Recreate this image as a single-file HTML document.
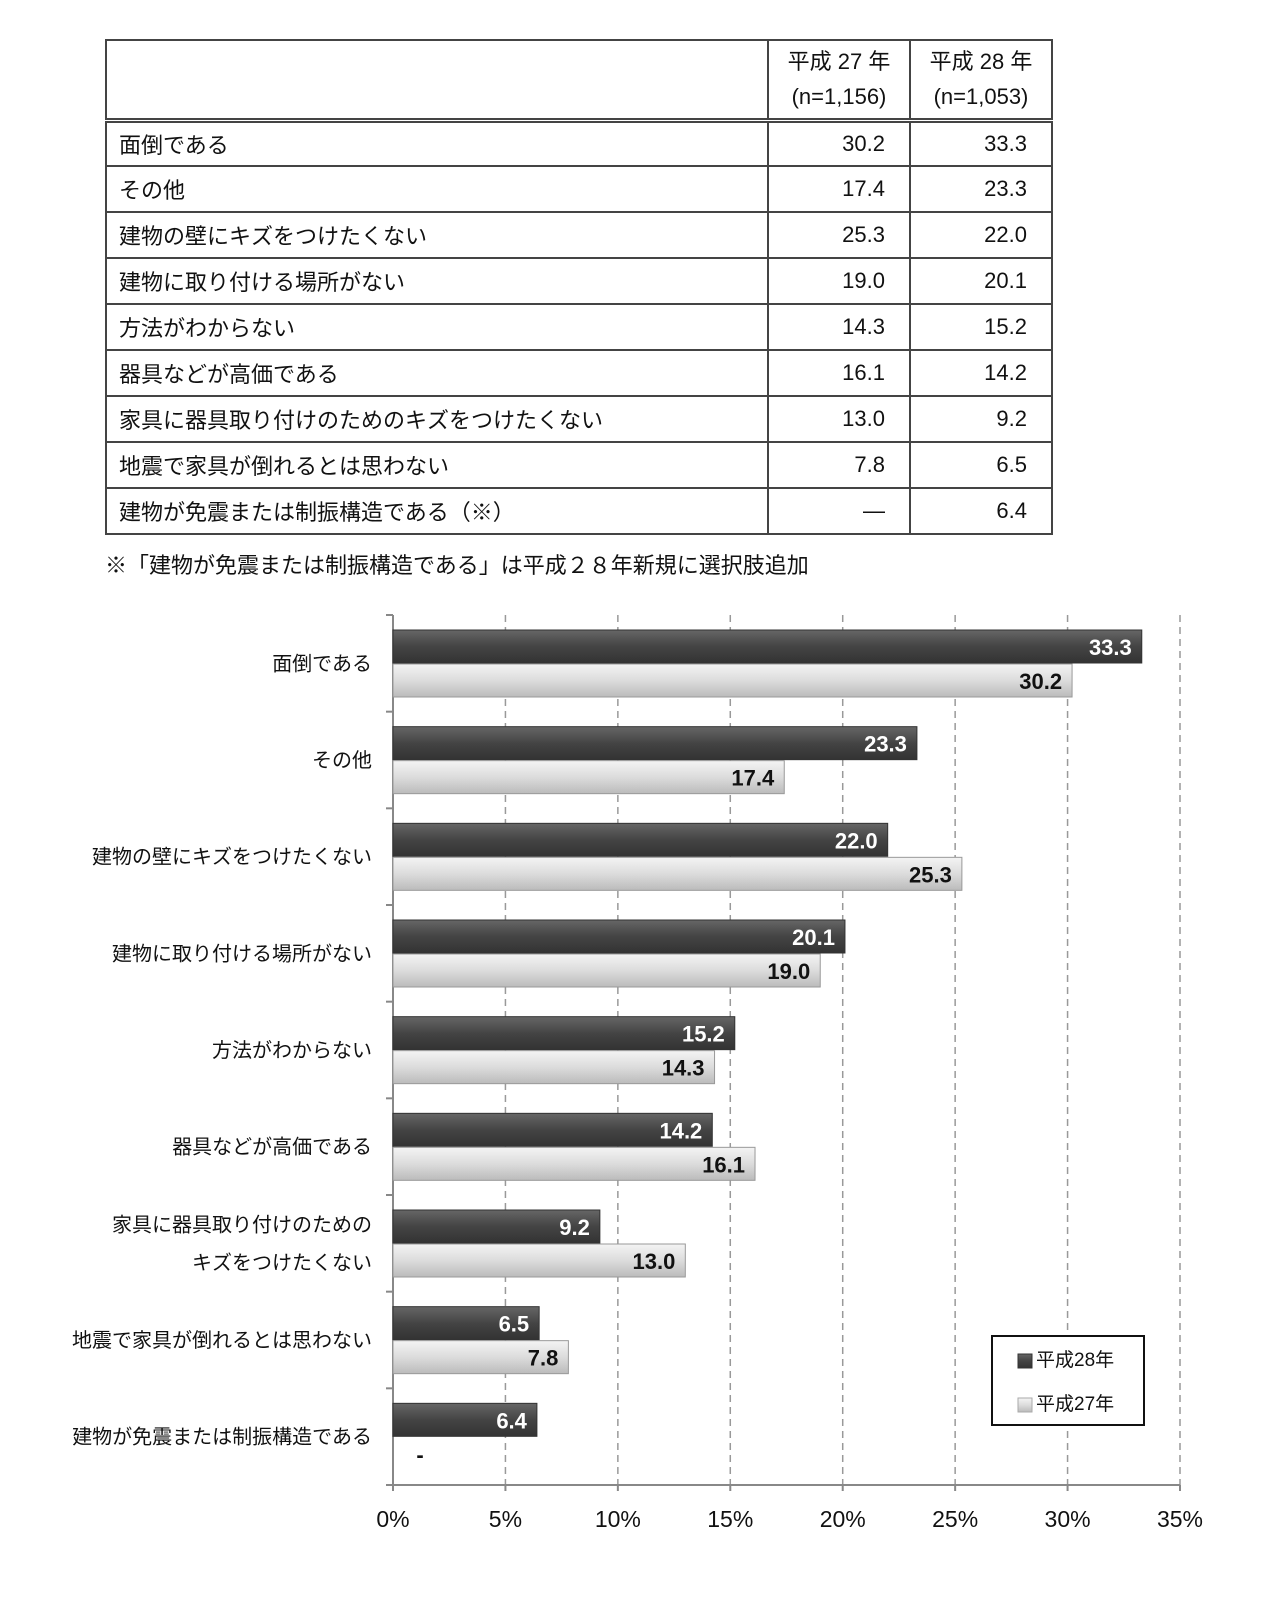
<!DOCTYPE html>
<html><head><meta charset="utf-8">
<style>
body{margin:0;background:#fff;font-family:"Liberation Sans","Noto Sans CJK JP",sans-serif;}
#wrap{position:relative;width:1280px;height:1610px;overflow:hidden;}
table{position:absolute;left:105px;top:39px;border-collapse:collapse;font-size:22px;color:#111;table-layout:fixed;width:946px;}
td{border:2px solid #444;padding:0 12px;height:46px;box-sizing:border-box;white-space:nowrap;}
td.n{text-align:right;padding-right:24px;}
tr.h td{height:80px;text-align:center;line-height:35px;padding:0}
tr.h td{border-bottom:5px double #444;}
#foot{position:absolute;left:105px;top:548px;font-size:22px;color:#111;}
</style></head><body><div id="wrap">
<table>
<colgroup><col style="width:662px"><col style="width:142px"><col style="width:142px"></colgroup>
<tr class="h"><td></td><td>平成 27 年<br>(n=1,156)</td><td>平成 28 年<br>(n=1,053)</td></tr>
<tr><td>面倒である</td><td class="n">30.2</td><td class="n">33.3</td></tr>
<tr><td>その他</td><td class="n">17.4</td><td class="n">23.3</td></tr>
<tr><td>建物の壁にキズをつけたくない</td><td class="n">25.3</td><td class="n">22.0</td></tr>
<tr><td>建物に取り付ける場所がない</td><td class="n">19.0</td><td class="n">20.1</td></tr>
<tr><td>方法がわからない</td><td class="n">14.3</td><td class="n">15.2</td></tr>
<tr><td>器具などが高価である</td><td class="n">16.1</td><td class="n">14.2</td></tr>
<tr><td>家具に器具取り付けのためのキズをつけたくない</td><td class="n">13.0</td><td class="n">9.2</td></tr>
<tr><td>地震で家具が倒れるとは思わない</td><td class="n">7.8</td><td class="n">6.5</td></tr>
<tr><td>建物が免震または制振構造である（※）</td><td class="n">―</td><td class="n">6.4</td></tr>
</table>
<div id="foot">※「建物が免震または制振構造である」は平成２８年新規に選択肢追加</div>
<svg id="chart" width="1280" height="1610" style="position:absolute;left:0;top:0">
<defs>
<linearGradient id="gd" x1="0" y1="0" x2="0" y2="1"><stop offset="0" stop-color="#666"/><stop offset="0.5" stop-color="#444"/><stop offset="1" stop-color="#333"/></linearGradient>
<linearGradient id="gl" x1="0" y1="0" x2="0" y2="1"><stop offset="0" stop-color="#f4f4f4"/><stop offset="0.5" stop-color="#dcdcdc"/><stop offset="1" stop-color="#bbb"/></linearGradient>
</defs>
</svg>
</div>
<script>
const categories=[["面倒である"],["その他"],["建物の壁にキズをつけたくない"],["建物に取り付ける場所がない"],["方法がわからない"],["器具などが高価である"],["家具に器具取り付けのための","キズをつけたくない"],["地震で家具が倒れるとは思わない"],["建物が免震または制振構造である"]];
const h28=[33.3,23.3,22.0,20.1,15.2,14.2,9.2,6.5,6.4];
const h27=[30.2,17.4,25.3,19.0,14.3,16.1,13.0,7.8,null];
const ticks=[0,5,10,15,20,25,30,35];
const svg=document.getElementById('chart');
const NS='http://www.w3.org/2000/svg';
const x0=393,x1=1180,top0=615,bot=1485,band=(bot-top0)/categories.length;
const X=v=>x0+(x1-x0)*v/35;
function mk(t,a,p){const e=document.createElementNS(NS,t);for(const k in a)e.setAttribute(k,a[k]);(p||svg).appendChild(e);return e;}
ticks.forEach(t=>{
 if(t>0){const g=mk('line',{x1:X(t),x2:X(t),y1:top0,y2:bot,stroke:'#999','stroke-width':1.5,'stroke-dasharray':'7,5'});
 
 
 mk('line',{x1:X(t),x2:X(t),y1:bot,y2:bot+6,stroke:'#888','stroke-width':2});}
 const l=mk('text',{x:X(t),y:bot+42,'text-anchor':'middle','font-size':23,fill:'#111'});l.textContent=t+'%';
 
 
});
mk('line',{x1:x0,x2:x1,y1:bot,y2:bot,stroke:'#888','stroke-width':2});
mk('line',{x1:x0,x2:x0,y1:top0,y2:bot+6,stroke:'#888','stroke-width':2});
for(let i=0;i<=categories.length;i++)mk('line',{x1:x0-7,x2:x0,y1:top0+band*i,y2:top0+band*i,stroke:'#888','stroke-width':2});
categories.forEach((c,i)=>{
 const y=top0+band*i;
 const lines=c.length;
 c.forEach((s,j)=>{const t=mk('text',{x:372,y:y+band/2+7+(j-(lines-1)/2)*38,'text-anchor':'end','font-size':20,fill:'#111'});t.textContent=s;
 
 });
 const b=mk('rect',{x:x0,y:y+15,width:X(h28[i])-x0,height:33,fill:'url(#gd)',stroke:'#333'});
 
 
 const t1=mk('text',{x:X(h28[i])-10,y:y+40,'text-anchor':'end','font-size':22,'font-weight':'bold',fill:'#fff'});t1.textContent=h28[i].toFixed(1);
 
 
 if(h27[i]!=null){
  const b2=mk('rect',{x:x0,y:y+49,width:X(h27[i])-x0,height:33,fill:'url(#gl)',stroke:'#999'});
  
  
  const t2=mk('text',{x:X(h27[i])-10,y:y+74,'text-anchor':'end','font-size':22,'font-weight':'bold',fill:'#111'});t2.textContent=h27[i].toFixed(1);
  
  
 }else{
  const t2=mk('text',{x:X(1.2),y:y+74,'text-anchor':'middle','font-size':22,'font-weight':'bold',fill:'#111'});t2.textContent='-';
  
  
 }
});
const lg=mk('g',{});


mk('rect',{x:992,y:1336,width:152,height:89,fill:'#fff',stroke:'#111','stroke-width':2},lg);
mk('rect',{x:1018,y:1354,width:14,height:14,fill:'url(#gd)',stroke:'#333'},lg);
mk('rect',{x:1018,y:1398,width:14,height:14,fill:'url(#gl)',stroke:'#aaa'},lg);
const la=mk('text',{x:1036,y:1366,'font-size':19,fill:'#111'},lg);la.textContent='平成28年';
const lb=mk('text',{x:1036,y:1410,'font-size':19,fill:'#111'},lg);lb.textContent='平成27年';
</script>
</body></html>
